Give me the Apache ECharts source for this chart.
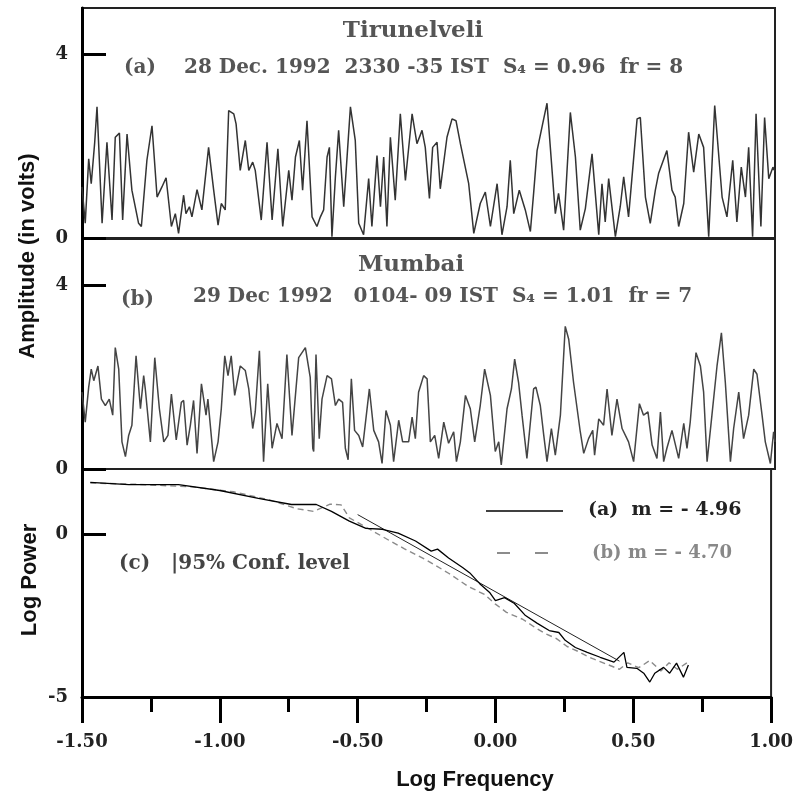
<!DOCTYPE html>
<html>
<head>
<meta charset="utf-8">
<script src="https://cdn.jsdelivr.net/npm/echarts@6/dist/echarts.min.js"></script>
<style>
  html, body { margin: 0; padding: 0; background: #fff; }
  #chart { width: 796px; height: 796px; }
</style>
</head>
<body>
<div id="chart"></div>
<script>
// (a) Tirunelveli amplitude record, time in seconds (peaks and troughs)
var timeA = [0,1.4,2.9,4.0,5.5,6.5,8.7,10.8,13.0,14.4,16.2,17.6,19.5,21.6,24.5,25.7,28.1,30.3,32.5,34.6,
  36.4,38.7,40.4,41.8,44.0,45.0,46.5,47.6,49.8,51.9,54.8,57.0,58.9,60.3,62.0,63.5,65.7,66.7,68.5,70.7,
  72.2,73.9,75.0,77.6,80.1,82.3,84.8,86.9,89.5,90.9,92.4,94.1,95.5,97.4,
  99.6,101.7,103.2,104.6,106.1,107.1,108.2,109.7,111.1,113.3,116.2,118.3,119.8,121.9,124.1,125.5,127.7,129.2,130.6,132.0,
  133.5,135.6,137.8,140.0,142.9,145.0,147.2,148.6,150.4,151.8,153.7,155.1,158.0,160.2,161.9,163.8,167.4,169.6,172.4,174.6,
  176.8,179.7,181.8,184.0,185.4,186.9,189.3,191.9,194.1,195.5,197.0,
  201.3,204.9,206.3,208.5,211.4,213.6,215.7,217.9,220.8,223.7,225.1,226.5,228.0,230.9,233.0,234.5,236.6,240.3,241.7,243.9,
  246.0,248.2,249.6,251.4,253.2,255.4,256.8,258.3,260.5,262.6,264.8,267.0,269.1,271.3,273.9,277.1,279.2,281.7,283.5,285.4,
  287.2,288.6,290.3,291.8,293.9,295.5,297.3,299.1,300];
var ampA = [1.11,0.32,1.72,1.18,2.08,2.85,0.32,2.08,0.39,2.19,2.28,0.39,2.26,1.04,0.32,0.25,1.69,2.44,0.89,1.11,
  1.31,0.25,0.53,0.10,0.93,0.53,0.68,0.46,1.05,0.61,1.97,1.04,0.28,0.75,0.61,2.77,2.70,2.48,1.47,2.12,
  1.47,1.65,1.47,0.39,2.08,0.39,1.94,0.25,1.47,0.82,1.76,2.12,1.04,2.55,
  0.46,0.25,0.46,0.61,1.76,1.97,0.03,1.33,2.34,0.68,2.85,2.12,0.32,0.07,1.29,0.25,1.79,0.68,1.76,0.25,
  2.19,0.82,2.70,1.25,2.70,2.05,2.34,1.97,0.86,1.97,2.08,1.07,2.19,2.59,2.55,2.05,1.18,0.10,0.75,1.00,
  0.25,1.18,0.07,0.68,1.69,0.53,1.04,0.61,0.14,0.97,1.90,
  2.93,0.53,0.97,0.17,2.73,1.76,0.17,0.64,1.83,0.07,1.18,0.35,1.29,0.03,0.68,1.33,0.46,2.59,2.62,0.89,
  0.32,1.04,1.40,1.65,1.90,1.04,0.89,0.25,0.75,2.30,1.43,2.26,1.97,0.03,2.88,0.89,0.46,1.69,0.35,1.54,
  0.89,1.97,0.03,2.70,0.25,2.62,1.29,1.54,1.45];

// (b) Mumbai amplitude record
var timeB = [0,1.4,2.9,4.0,5.1,6.9,8.4,10.1,11.8,13.3,14.4,15.9,17.3,18.8,20.2,21.6,23.4,25.3,26.7,27.4,
  29.6,31.5,33.5,35.4,37.2,38.7,40.8,43.0,44.0,45.5,46.9,48.3,49.8,51.7,53.7,54.5,57.0,58.9,60.3,61.8,
  63.2,64.6,66.1,68.5,70.7,72.2,73.9,75.0,76.8,78.6,80.4,82.3,84.4,86.6,88.7,90.9,93.8,96.7,98.8,99.9,
  100.3,101.3,102.7,103.9,106.1,108.0,109.7,111.1,112.8,114.0,115.2,116.6,118.0,119.8,121.5,124.4,126.3,128.4,129.9,131.6,
  133.5,134.9,137.1,138.8,141.4,142.9,144.3,145.7,147.9,149.4,150.8,152.7,154.4,156.6,158.7,160.9,162.1,163.8,166.0,168.1,
  170.0,172.4,174.3,176.8,178.9,180.4,181.5,184.0,185.9,187.3,189.0,190.5,192.6,195.5,196.5,198.4,199.9,
  201.3,203.2,204.9,207.1,209.2,210.7,212.8,215.7,217.2,219.3,221.1,221.9,223.7,225.8,227.3,229.4,231.6,233.8,236.6,238.8,
  241.3,243.1,245.0,246.8,248.9,250.4,251.8,253.2,255.4,258.3,260.5,261.9,263.3,265.8,267.7,269.1,270.6,272.7,274.9,276.8,
  278.5,280.7,282.1,284.3,286.4,288.6,290.8,292.2,294.4,295.8,298.0,299.4,300];
var ampB = [1.67,1.02,1.78,2.17,1.92,2.24,1.52,1.38,1.52,1.17,2.64,2.17,0.59,0.27,0.73,0.95,2.46,1.31,2.03,1.74,
  0.59,2.42,1.31,0.59,0.73,1.63,0.63,1.45,1.49,0.52,0.95,1.49,0.34,1.85,1.17,1.52,0.16,0.59,1.31,2.46,
  2.03,2.46,1.60,2.24,2.14,1.74,0.88,1.24,2.57,0.16,1.85,0.45,0.99,0.66,2.49,0.73,2.42,2.64,1.99,0.45,
  0.38,2.49,0.66,1.52,2.03,1.96,1.38,1.52,1.45,0.45,0.20,1.96,0.84,0.73,0.48,1.74,0.84,0.59,0.12,1.27,
  0.95,0.16,1.06,0.59,0.59,1.13,0.66,1.67,2.03,1.96,0.59,0.73,0.23,1.02,0.56,0.81,0.16,0.59,1.60,1.31,
  0.59,1.38,2.17,1.60,0.38,0.59,0.09,1.31,1.74,2.39,1.88,1.17,0.23,1.74,1.78,1.38,0.73,
  0.16,0.88,0.30,1.17,3.10,2.82,1.88,0.81,0.34,0.66,0.84,0.30,1.09,0.95,1.74,0.73,1.52,0.88,0.59,0.16,
  1.42,1.17,1.24,0.52,0.23,1.24,0.16,0.45,0.84,0.23,0.99,0.45,1.02,2.53,2.24,1.67,0.16,1.17,2.24,2.96,
  1.88,0.16,0.88,1.67,0.66,1.17,2.17,2.06,1.17,0.59,0.12,0.81,0.59];

// (c) power spectra, log frequency vs log power
var freqA = [-1.47,-1.33,-1.15,-1.00,-0.86,-0.74,-0.65,-0.595,-0.53,-0.47,-0.41,-0.353,-0.29,-0.233,-0.21,-0.17,-0.118,-0.093,-0.057,-0.02,
  0.0,0.033,0.069,0.109,0.152,0.195,0.23,0.253,0.29,0.333,0.38,0.43,0.466,0.477,0.513,0.538,0.56,0.578,0.61,0.632,0.657,0.682,0.70];
var powA = [1.59,1.52,1.52,1.34,1.10,0.91,0.91,0.70,0.40,0.18,0.15,0.03,-0.21,-0.52,-0.46,-0.73,-1.03,-1.19,-1.52,-1.80,
  -2.04,-1.95,-2.13,-2.50,-2.74,-2.96,-3.02,-3.26,-3.48,-3.63,-3.78,-3.93,-3.63,-4.09,-4.12,-4.27,-4.54,-4.27,-4.09,-4.27,-3.96,-4.39,-4.02];
var freqB = [-1.47,-1.30,-1.10,-0.95,-0.82,-0.72,-0.66,-0.60,-0.56,-0.53,-0.45,-0.38,-0.33,-0.25,-0.17,-0.10,-0.04,0.00,0.04,0.10,
  0.15,0.18,0.22,0.26,0.30,0.34,0.40,0.45,0.48,0.52,0.56,0.60,0.63,0.66,0.70];
var powB = [1.57,1.53,1.45,1.30,1.05,0.78,0.70,0.92,0.90,0.50,0.12,-0.22,-0.45,-0.80,-1.20,-1.60,-1.85,-2.15,-2.40,-2.62,
  -2.90,-3.05,-3.20,-3.45,-3.60,-3.78,-3.98,-4.15,-3.95,-4.10,-3.88,-4.20,-3.95,-4.15,-3.92];
// straight-line fit for (a)
var fitFreq = [-0.50, 0.45];
var fitPow = [0.60, -3.90];

// tick values on the vertical axes
var ampTicks = [0, 4];
var powTicks = [-5, 0];

function pairs(xs, ys) { return xs.map(function (x, i) { return [x, ys[i]]; }); }

var chart = echarts.init(document.getElementById('chart'), null, { renderer: 'canvas' });

var serifLabel = { fontFamily: 'DejaVu Serif', fontWeight: 'bold', fontSize: 18, color: '#222' };
var blackLine = { color: '#000', width: 3 };

function valueY(idx, min, max, ticks) {
  return {
    type: 'value', gridIndex: idx, min: min, max: max,
    axisLine: { show: true, onZero: false, lineStyle: blackLine },
    axisTick: { inside: true, length: 24, lineStyle: blackLine, customValues: ticks },
    axisLabel: Object.assign({ margin: 14, customValues: ticks }, serifLabel),
    splitLine: { show: false }
  };
}
function timeX(idx) {
  return { type: 'value', gridIndex: idx, min: 0, max: 300, show: false };
}

var sansTitle = 'bold 22px "Liberation Sans"';
var serifNote = 'bold 20px "DejaVu Serif"';

var option = {
  animation: false,
  backgroundColor: '#fff',
  grid: [
    { left: 82, right: 21, top: 8, height: 230, show: true, borderColor: '#222', borderWidth: 2 },
    { left: 82, right: 21, top: 239, height: 230, show: true, borderColor: '#222', borderWidth: 2 },
    { left: 82, right: 21, top: 469, height: 228, show: true, borderColor: '#222', borderWidth: 2 }
  ],
  xAxis: [
    timeX(0),
    timeX(1),
    {
      type: 'value', gridIndex: 2, min: -1.5, max: 1.0, interval: 0.5,
      axisLine: { show: true, onZero: false, lineStyle: blackLine },
      axisTick: { inside: false, length: 26, lineStyle: blackLine },
      minorTick: { show: true, splitNumber: 2, length: 15, lineStyle: blackLine },
      splitLine: { show: false },
      minorSplitLine: { show: false },
      axisLabel: Object.assign({ margin: 36, formatter: function (v) { return v.toFixed(2); } }, serifLabel)
    }
  ],
  yAxis: [
    valueY(0, 0, 5, ampTicks),
    valueY(1, 0, 5, ampTicks),
    valueY(2, -5, 2, powTicks)
  ],
  series: [
    { type: 'line', xAxisIndex: 0, yAxisIndex: 0, data: pairs(timeA, ampA), showSymbol: false,
      lineStyle: { color: '#333', width: 1.5 } },
    { type: 'line', xAxisIndex: 1, yAxisIndex: 1, data: pairs(timeB, ampB), showSymbol: false,
      lineStyle: { color: '#444', width: 1.5 } },
    { type: 'line', xAxisIndex: 2, yAxisIndex: 2, data: pairs(freqB, powB), showSymbol: false,
      lineStyle: { color: '#8a8a8a', width: 1.4, type: [6, 4] } },
    { type: 'line', xAxisIndex: 2, yAxisIndex: 2, data: pairs(fitFreq, fitPow), showSymbol: false,
      lineStyle: { color: '#222', width: 1 } },
    { type: 'line', xAxisIndex: 2, yAxisIndex: 2, data: pairs(freqA, powA), showSymbol: false,
      lineStyle: { color: '#000', width: 1.3 } }
  ],
  graphic: [
    { type: 'text', x: 413, y: 31, style: { text: 'Tirunelveli', font: 'bold 23px "DejaVu Serif"', fill: '#555', align: 'center', verticalAlign: 'middle' } },
    { type: 'text', x: 124, y: 68, style: { text: '(a)', font: serifNote, fill: '#555', verticalAlign: 'middle' } },
    { type: 'text', x: 184, y: 68, style: { text: '28 Dec. 1992  2330 -35 IST  S\u2084 = 0.96  fr = 8', font: serifNote, fill: '#555', verticalAlign: 'middle' } },
    { type: 'text', x: 411, y: 265, style: { text: 'Mumbai', font: 'bold 23px "DejaVu Serif"', fill: '#555', align: 'center', verticalAlign: 'middle' } },
    { type: 'text', x: 121, y: 300, style: { text: '(b)', font: serifNote, fill: '#555', verticalAlign: 'middle' } },
    { type: 'text', x: 193, y: 297, style: { text: '29 Dec 1992   0104- 09 IST  S\u2084 = 1.01  fr = 7', font: serifNote, fill: '#555', verticalAlign: 'middle' } },
    { type: 'text', x: 119, y: 564, style: { text: '(c)', font: serifNote, fill: '#444', verticalAlign: 'middle' } },
    { type: 'text', x: 171, y: 564, style: { text: '|95% Conf. level', font: serifNote, fill: '#444', verticalAlign: 'middle' } },
    { type: 'line', shape: { x1: 486, y1: 511, x2: 563, y2: 511 }, style: { stroke: '#000', lineWidth: 1.5 } },
    { type: 'text', x: 588, y: 510, style: { text: '(a)  m = - 4.96', font: 'bold 19px "DejaVu Serif"', fill: '#222', verticalAlign: 'middle' } },
    { type: 'line', shape: { x1: 497, y1: 553, x2: 510, y2: 553 }, style: { stroke: '#666', lineWidth: 1.5 } },
    { type: 'line', shape: { x1: 535, y1: 553, x2: 548, y2: 553 }, style: { stroke: '#666', lineWidth: 1.5 } },
    { type: 'text', x: 592, y: 553, style: { text: '(b) m = - 4.70', font: 'bold 18px "DejaVu Serif"', fill: '#888', verticalAlign: 'middle' } },
    { type: 'text', x: 28, y: 256, rotation: Math.PI / 2, style: { text: 'Amplitude (in volts)', font: sansTitle, fill: '#111', align: 'center', verticalAlign: 'middle' } },
    { type: 'text', x: 30, y: 580, rotation: Math.PI / 2, style: { text: 'Log Power', font: sansTitle, fill: '#111', align: 'center', verticalAlign: 'middle' } },
    { type: 'text', x: 475, y: 780, style: { text: 'Log Frequency', font: sansTitle, fill: '#111', align: 'center', verticalAlign: 'middle' } }
  ]
};

chart.setOption(option);
</script>
</body>
</html>
